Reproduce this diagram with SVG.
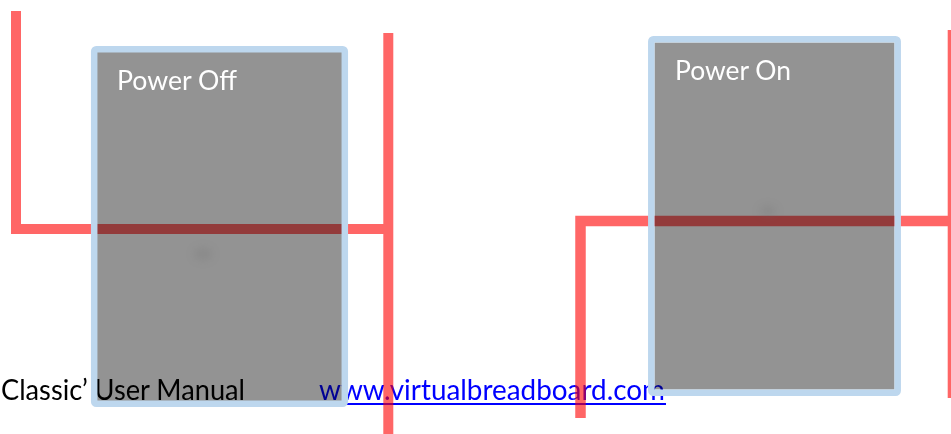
<svg xmlns="http://www.w3.org/2000/svg" width="951" height="434" viewBox="0 0 951 434">
<style>
.wire{fill:none;stroke:#ff0000;stroke-linecap:butt;stroke-linejoin:miter}
.panel{fill:#939393;mix-blend-mode:multiply}
.frame{fill:none;stroke:#bdd7ee;stroke-width:6.5}
.label{font-family:Lato,"Liberation Sans",sans-serif;font-size:27px;fill:#ffffff}
.foot{font-family:Lato,"Liberation Sans",sans-serif;font-size:28px}
</style>
<defs>
<filter id="blur" x="-80%" y="-80%" width="260%" height="260%"><feGaussianBlur stdDeviation="4"/></filter>
</defs>
<g id="footer">
<text class="foot" x="1" y="400" fill="#000000" textLength="244" lengthAdjust="spacingAndGlyphs">Classic’ User Manual</text>
<text class="foot" x="319" y="400" fill="#0000ff" textLength="346" lengthAdjust="spacingAndGlyphs">www.virtualbreadboard.com</text>
<rect x="319" y="403" width="347" height="2" fill="#0000ff"/>
</g>
<g id="connectors" opacity="0.6">
<path class="wire" d="M16,11 V229 H388" stroke-width="10"/>
<path class="wire" d="M388.3,33 V434" stroke-width="10"/>
<path class="wire" d="M580.5,418 V221 H951" stroke-width="10.5"/>
<path class="wire" d="M952.7,30 V398" stroke-width="10"/>
</g>
<g id="power-off">
<rect class="panel" x="97" y="52" width="245" height="349"/>
<ellipse cx="203" cy="254" rx="10" ry="7" fill="#666666" opacity="0.18" filter="url(#blur)"/>
<rect class="frame" x="94.2" y="49.2" width="250.6" height="354.6" rx="2"/>
<text class="label" x="117" y="90" textLength="120" lengthAdjust="spacingAndGlyphs">Power Off</text>
</g>
<g id="power-on">
<rect class="panel" x="654.5" y="42.5" width="240" height="347"/>
<ellipse cx="768" cy="211" rx="9" ry="6" fill="#666666" opacity="0.18" filter="url(#blur)"/>
<rect class="frame" x="651.3" y="39.3" width="246.4" height="353.4" rx="2"/>
<text class="label" x="675" y="80" textLength="116" lengthAdjust="spacingAndGlyphs">Power On</text>
</g>
</svg>
